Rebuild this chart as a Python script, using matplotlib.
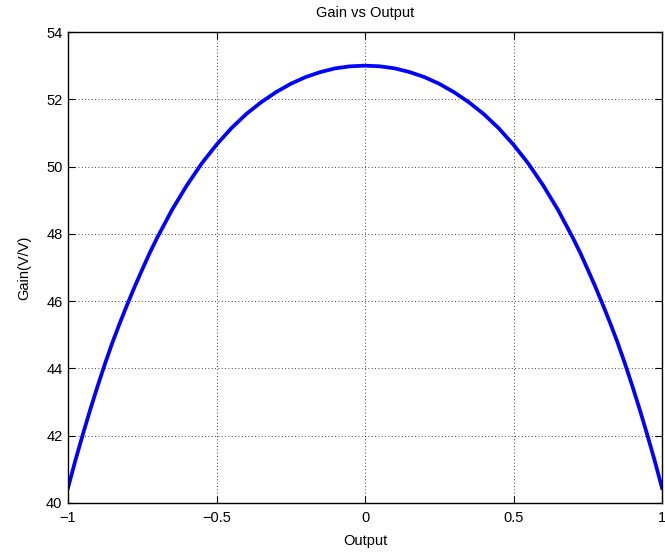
import matplotlib
matplotlib.use("Agg")
import matplotlib.pyplot as plt

# Values (symmetric curve)
output_vals = [-1.000, -0.975, -0.950, -0.925, -0.900, -0.875, -0.850, -0.825, -0.800, -0.775,
               -0.750, -0.725, -0.700, -0.65, -0.60, -0.55,
               -0.50, -0.45, -0.40, -0.35, -0.30, -0.25, -0.20, -0.15, -0.10, -0.05,
               0.00, 0.05, 0.10, 0.15, 0.20, 0.25, 0.30, 0.35, 0.40, 0.45,
               0.50, 0.55, 0.60, 0.65, 0.700, 0.725, 0.750, 0.775, 0.800, 0.825,
               0.850, 0.875, 0.900, 0.925, 0.950, 0.975, 1.000]
gain_vals = [40.45, 41.27, 42.04, 42.78, 43.48, 44.15, 44.78, 45.36, 45.91, 46.44,
             46.94, 47.43, 47.88, 48.71, 49.44, 50.09,
             50.65, 51.14, 51.56, 51.91, 52.21, 52.46, 52.66, 52.81, 52.92, 52.98,
             53.00, 52.98, 52.92, 52.81, 52.66, 52.46, 52.21, 51.91, 51.56, 51.14,
             50.65, 50.09, 49.44, 48.71, 47.88, 47.43, 46.94, 46.44, 45.91, 45.36,
             44.78, 44.15, 43.48, 42.78, 42.04, 41.27, 40.45]
x_ticks = [-1, -0.5, 0, 0.5, 1]
x_ticklabels = ["\u22121", "\u22120.5", "0", "0.5", "1"]
y_ticks = [40, 42, 44, 46, 48, 50, 52, 54]

plt.rcParams['font.family'] = ['Liberation Sans', 'DejaVu Sans']

fig = plt.figure(figsize=(6.65, 5.54), dpi=100)
ax = fig.add_axes([68 / 665, 51 / 554, 594 / 665, 471 / 554])

ax.plot(output_vals, gain_vals, color=(0, 0, 1), linewidth=2.7)

ax.set_xlim(-1, 1)
ax.set_ylim(40, 54)
ax.set_xticks(x_ticks)
ax.set_xticklabels(x_ticklabels)
ax.set_yticks(y_ticks)

ax.grid(True, linestyle=(0, (1, 3)), color='black', linewidth=0.6)
ax.tick_params(direction='in', length=5, width=0.8, top=True, right=True,
               labelsize=10.5)
ax.tick_params(axis='x', pad=6)
ax.tick_params(axis='y', pad=4)
for s in ax.spines.values():
    s.set_linewidth(1.0)

ax.set_title("Gain vs Output", fontsize=10.5, pad=11)
ax.set_xlabel("Output", fontsize=10.5, labelpad=6)
ax.set_ylabel("Gain(V/V)", fontsize=10.5, labelpad=11)

fig.savefig("out.png", dpi=100)
